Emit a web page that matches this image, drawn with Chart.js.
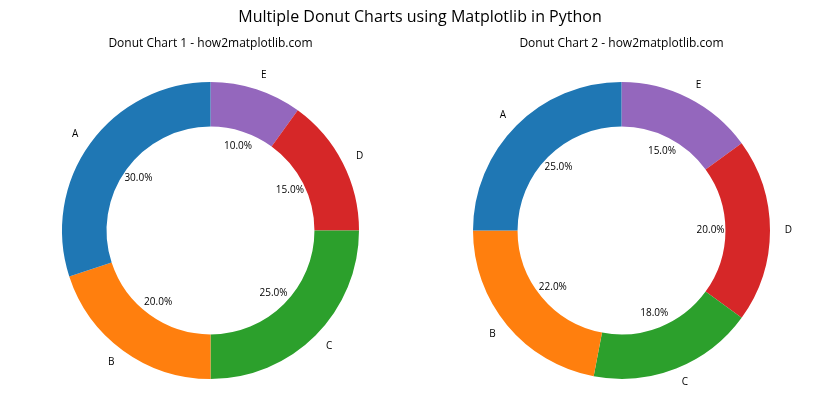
<!DOCTYPE html>
<html>
<head>
<meta charset="utf-8">
<script src="https://cdn.jsdelivr.net/npm/chart.js@4"></script>
<style>
  html, body { margin: 0; padding: 0; background: #fff; }
  #wrap { position: relative; width: 840px; height: 420px; overflow: hidden; font-family: "Open Sans", "Noto Sans", sans-serif; color: #000; }
  canvas { position: absolute; left: 0; top: 0; }
  .t { position: absolute; white-space: nowrap; transform: translate(-50%, -50%); }
</style>
</head>
<body>
<div id="wrap">
  <canvas id="c1" width="840" height="420"></canvas>
  <canvas id="c2" width="840" height="420"></canvas>
  <div class="t" style="left:420px; top:16px; font-size:16px;">Multiple Donut Charts using Matplotlib in Python</div>
  <div class="t" style="left:210.5px; top:42px; font-size:12px;">Donut Chart 1 - how2matplotlib.com</div>
  <div class="t" style="left:621.5px; top:42px; font-size:12px;">Donut Chart 2 - how2matplotlib.com</div>
</div>
<script>
const categories = ['A', 'B', 'C', 'D', 'E'];
const values1 = [30, 20, 25, 15, 10];
const values2 = [25, 22, 18, 20, 15];
const colors = ['#1f77b4', '#ff7f0e', '#2ca02c', '#d62728', '#9467bd'];

const labelPlugin = {
  id: 'pieLabels',
  afterDatasetsDraw(chart) {
    const ctx = chart.ctx;
    const meta = chart.getDatasetMeta(0);
    const data = chart.data.datasets[0].data;
    const total = data.reduce((a, b) => a + b, 0);
    ctx.save();
    ctx.fillStyle = '#000';
    ctx.textBaseline = 'middle';
    meta.data.forEach((arc, i) => {
      const p = arc.getProps(['x', 'y', 'startAngle', 'endAngle', 'outerRadius'], true);
      const mid = (p.startAngle + p.endAngle) / 2;
      const cx = Math.cos(mid), cy = Math.sin(mid);
      const r = p.outerRadius;
      ctx.font = '10px "Open Sans", "Noto Sans", sans-serif';
      // category label
      const lx = p.x + cx * r * 1.1, ly = p.y + cy * r * 1.1;
      ctx.textAlign = cx < 0 ? 'right' : 'left';
      ctx.fillText(chart.data.labels[i], lx, ly);
      // percentage
      const px = p.x + cx * r * 0.6, py = p.y + cy * r * 0.6;
      ctx.textAlign = 'center';
      ctx.fillText((data[i] / total * 100).toFixed(1) + '%', px, py);
    });
    ctx.restore();
  }
};

function makeChart(id, values, pad) {
  const labs = categories.slice().reverse();
  const vals = values.slice().reverse();
  const cols = colors.slice().reverse();
  return new Chart(document.getElementById(id), {
    type: 'doughnut',
    data: {
      labels: labs,
      datasets: [{ data: vals, backgroundColor: cols, borderWidth: 0, hoverOffset: 0 }]
    },
    options: {
      responsive: false,
      animation: false,
      devicePixelRatio: 1,
      cutout: '70%',
      rotation: 0,
      layout: { padding: pad },
      plugins: { legend: { display: false }, tooltip: { enabled: false }, title: { display: false } },
      events: []
    },
    plugins: [labelPlugin]
  });
}

makeChart('c1', values1, { left: 62, top: 82, right: 840 - 359, bottom: 420 - 379 });
makeChart('c2', values2, { left: 473, top: 82, right: 840 - 770, bottom: 420 - 379 });
</script>
</body>
</html>
